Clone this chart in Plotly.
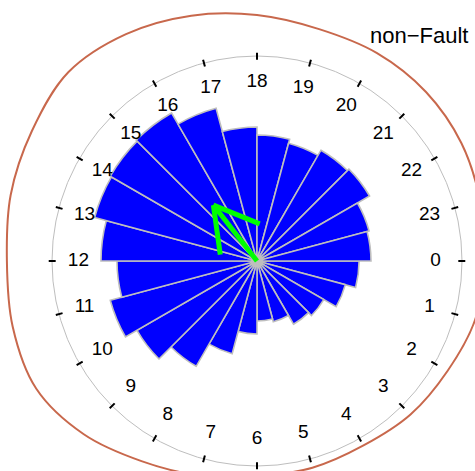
import numpy as np
import plotly.graph_objects as go

# ---- data ----
hours = list(range(24))
hour_labels = [str(h) for h in hours]
# rose bar lengths (circle radius = 1), bin [h, h+1)
bar_len = [0.498, 0.446, 0.376, 0.356, 0.307, 0.293, 0.356, 0.468, 0.593, 0.676,
           0.741, 0.683, 0.761, 0.820, 0.827, 0.834, 0.771, 0.654, 0.615, 0.595,
           0.624, 0.634, 0.566, 0.556]
# density curve radius at each hour (circle radius = 1)
dens_r = [1.112, 1.102, 1.073, 1.059, 1.039, 1.044, 1.049, 1.083, 1.127, 1.195,
          1.244, 1.234, 1.220, 1.244, 1.268, 1.302, 1.278, 1.239, 1.200, 1.171,
          1.171, 1.166, 1.151, 1.127]
mean_hour = 15.47
mean_len = 0.346
title_text = "non\u2212Fault"

# ---- geometry (pixels) ----
W, H = 475, 471
CX, CY = 257, 261          # centre from top-left
RPX = 205                  # pixel radius of unit circle
RPOL = 210                 # polar subplot radius in px

deg = lambda h: np.asarray(h, dtype=float) * 15.0

fig = go.Figure()

# density curve in a cartesian overlay (can leave the circle)
th = np.radians(deg(hours + [24]))
rr = np.array(dens_r + [dens_r[0]])
fig.add_trace(go.Scatter(x=rr * np.cos(th), y=-rr * np.sin(th), mode="lines",
                         line=dict(color="#C8684C", width=2, shape="spline", smoothing=1.0),
                         hoverinfo="skip", showlegend=False))

# rose bars
fig.add_trace(go.Barpolar(r=bar_len, theta=deg(hours) + 7.5, width=[15] * 24,
                          marker=dict(color="#0000FF", line=dict(color="#BEBEBE", width=1.6)),
                          hoverinfo="skip", showlegend=False))

# hour tick marks crossing the circle
tr, tt = [], []
for h in hours:
    tr += [0.982, 1.016, None]
    tt += [h * 15, h * 15, None]
fig.add_trace(go.Scatterpolar(r=tr, theta=tt, mode="lines",
                              line=dict(color="black", width=2),
                              hoverinfo="skip", showlegend=False))

# hour labels
fig.add_trace(go.Scatterpolar(r=[0.871] * 24, theta=deg(hours), mode="text",
                              text=hour_labels,
                              textfont=dict(family="Liberation Sans, Arial, sans-serif",
                                            size=19, color="black"),
                              hoverinfo="skip", showlegend=False))

# mean direction arrow
a = np.radians(mean_hour * 15)
tip = np.array([mean_len * np.cos(a), mean_len * np.sin(a)])
L = 50 / RPX
pts = [np.array([0.0, 0.0]), tip, None]
for s in (-30, 30):
    b = a + np.pi + np.radians(s)
    pts += [tip, tip + L * np.array([np.cos(b), np.sin(b)]), None]
ar, at = [], []
for p in pts:
    if p is None:
        ar.append(None); at.append(None)
    else:
        ar.append(float(np.hypot(*p)))
        at.append(float(np.degrees(np.arctan2(p[1], p[0])) % 360))
fig.add_trace(go.Scatterpolar(r=ar, theta=at, mode="lines",
                              line=dict(color="#00FF00", width=5),
                              hoverinfo="skip", showlegend=False))

fig.update_layout(
    width=W, height=H, margin=dict(l=0, r=0, t=0, b=0),
    paper_bgcolor="white", plot_bgcolor="rgba(0,0,0,0)",
    xaxis=dict(domain=[0, 1], range=[-CX / RPX, (W - CX) / RPX], visible=False, fixedrange=True),
    yaxis=dict(domain=[0, 1], range=[-(H - CY) / RPX, CY / RPX], visible=False, fixedrange=True),
    polar=dict(
        domain=dict(x=[(CX - RPOL) / W, (CX + RPOL) / W],
                    y=[(H - CY - RPOL) / H, (H - CY + RPOL) / H]),
        bgcolor="rgba(0,0,0,0)",
        bargap=0,
        radialaxis=dict(range=[0, RPOL / RPX], tickvals=[1], showticklabels=False,
                        ticks="", showline=False, showgrid=True,
                        gridcolor="#BEBEBE", gridwidth=1),
        angularaxis=dict(direction="clockwise", rotation=0, showline=False,
                         showgrid=False, ticks="", showticklabels=False),
    ),
    annotations=[dict(text=title_text, x=368 / W, y=1 - 36 / H, xref="paper", yref="paper",
                      xanchor="left", yanchor="middle", showarrow=False,
                      font=dict(family="Liberation Sans, Arial, sans-serif", size=22, color="black"))],
    showlegend=False,
)

fig.write_html("out.html", config={"displayModeBar": False},
               post_script="document.body.style.margin='0px';document.body.style.overflow='hidden';")
